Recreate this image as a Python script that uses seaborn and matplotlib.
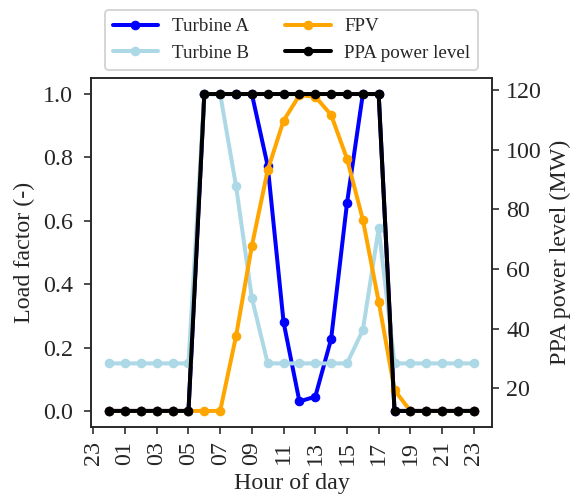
import numpy as np
import pandas as pd
import matplotlib
matplotlib.use("Agg")
import matplotlib.pyplot as plt
from matplotlib import font_manager as fm
import seaborn as sns

hours = list(range(24))
turbine_a = [0, 0, 0, 0, 0, 0, 1, 1, 1, 1, 0.773, 0.28, 0.03, 0.045, 0.227, 0.655,
             1, 1, 0, 0, 0, 0, 0, 0]
turbine_b = [0.15, 0.15, 0.15, 0.15, 0.15, 0.15, 1, 1, 0.71, 0.356, 0.15, 0.15, 0.15,
             0.15, 0.15, 0.15, 0.255, 0.576, 0.15, 0.15, 0.15, 0.15, 0.15, 0.15]
fpv = [0, 0, 0, 0, 0, 0, 0, 0, 0.236, 0.521, 0.76, 0.916, 0.996, 0.992, 0.934, 0.796,
       0.604, 0.345, 0.066, 0, 0, 0, 0, 0]
ppa = [12.4] * 6 + [118.6] * 12 + [12.4] * 6
tick_pos = list(range(-1, 24, 2))
tick_labels = ["23", "01", "03", "05", "07", "09", "11", "13", "15", "17", "19", "21", "23"]

sns.set_style("ticks")
serif_name = "DejaVu Serif"
for f in fm.findSystemFonts():
    if f.endswith("LiberationSerif-Regular.ttf"):
        fm.fontManager.addfont(f)
        serif_name = fm.FontProperties(fname=f).get_name()
        break
plt.rcParams["font.family"] = [serif_name, "DejaVu Serif"]
plt.rcParams["font.size"] = 12

fig = plt.figure(figsize=(577 / 144, 498 / 144), dpi=144)
ax = fig.add_axes([0.1577, 0.143, 0.695, 0.700])
ax2 = ax.twinx()

def draw(a, y, color, label):
    sns.lineplot(x=hours, y=y, ax=a, color=color, label=label, marker="o",
                 markersize=4.2, linewidth=2, markeredgewidth=0.6,
                 markeredgecolor=color, markerfacecolor=color)

draw(ax, turbine_a, "blue", "Turbine A")
draw(ax, turbine_b, "lightblue", "Turbine B")
draw(ax, fpv, "orange", "FPV")
draw(ax2, ppa, "black", "PPA power level")

for a in (ax, ax2):
    if a.get_legend() is not None:
        a.get_legend().remove()

ax.set_xticks(tick_pos)
ax.set_xticklabels(tick_labels, rotation=90)
ax.set_xlim(-1.15, 24.15)
ax.set_ylim(-0.05, 1.05)
ax2.set_ylim(12.4 - 0.05 * 106.2, 118.6 + 0.05 * 106.2)
ax.set_yticks([0, 0.2, 0.4, 0.6, 0.8, 1.0])
ax2.set_yticks([20, 40, 60, 80, 100, 120])
ax.tick_params(axis="y", pad=5.5)
ax.set_xlabel("Hour of day")
ax.set_ylabel("Load factor (-)")
ax2.set_ylabel("PPA power level (MW)")

h1, l1 = ax.get_legend_handles_labels()
h2, l2 = ax2.get_legend_handles_labels()
ax.legend(h1 + h2, l1 + l2, loc="lower center", bbox_to_anchor=(0.5, 1.0), ncol=2,
          fontsize=9.5, frameon=True, handlelength=2.4, handletextpad=0.72,
          columnspacing=1.9, borderaxespad=0.45)

fig.savefig("out.png", dpi=144)
